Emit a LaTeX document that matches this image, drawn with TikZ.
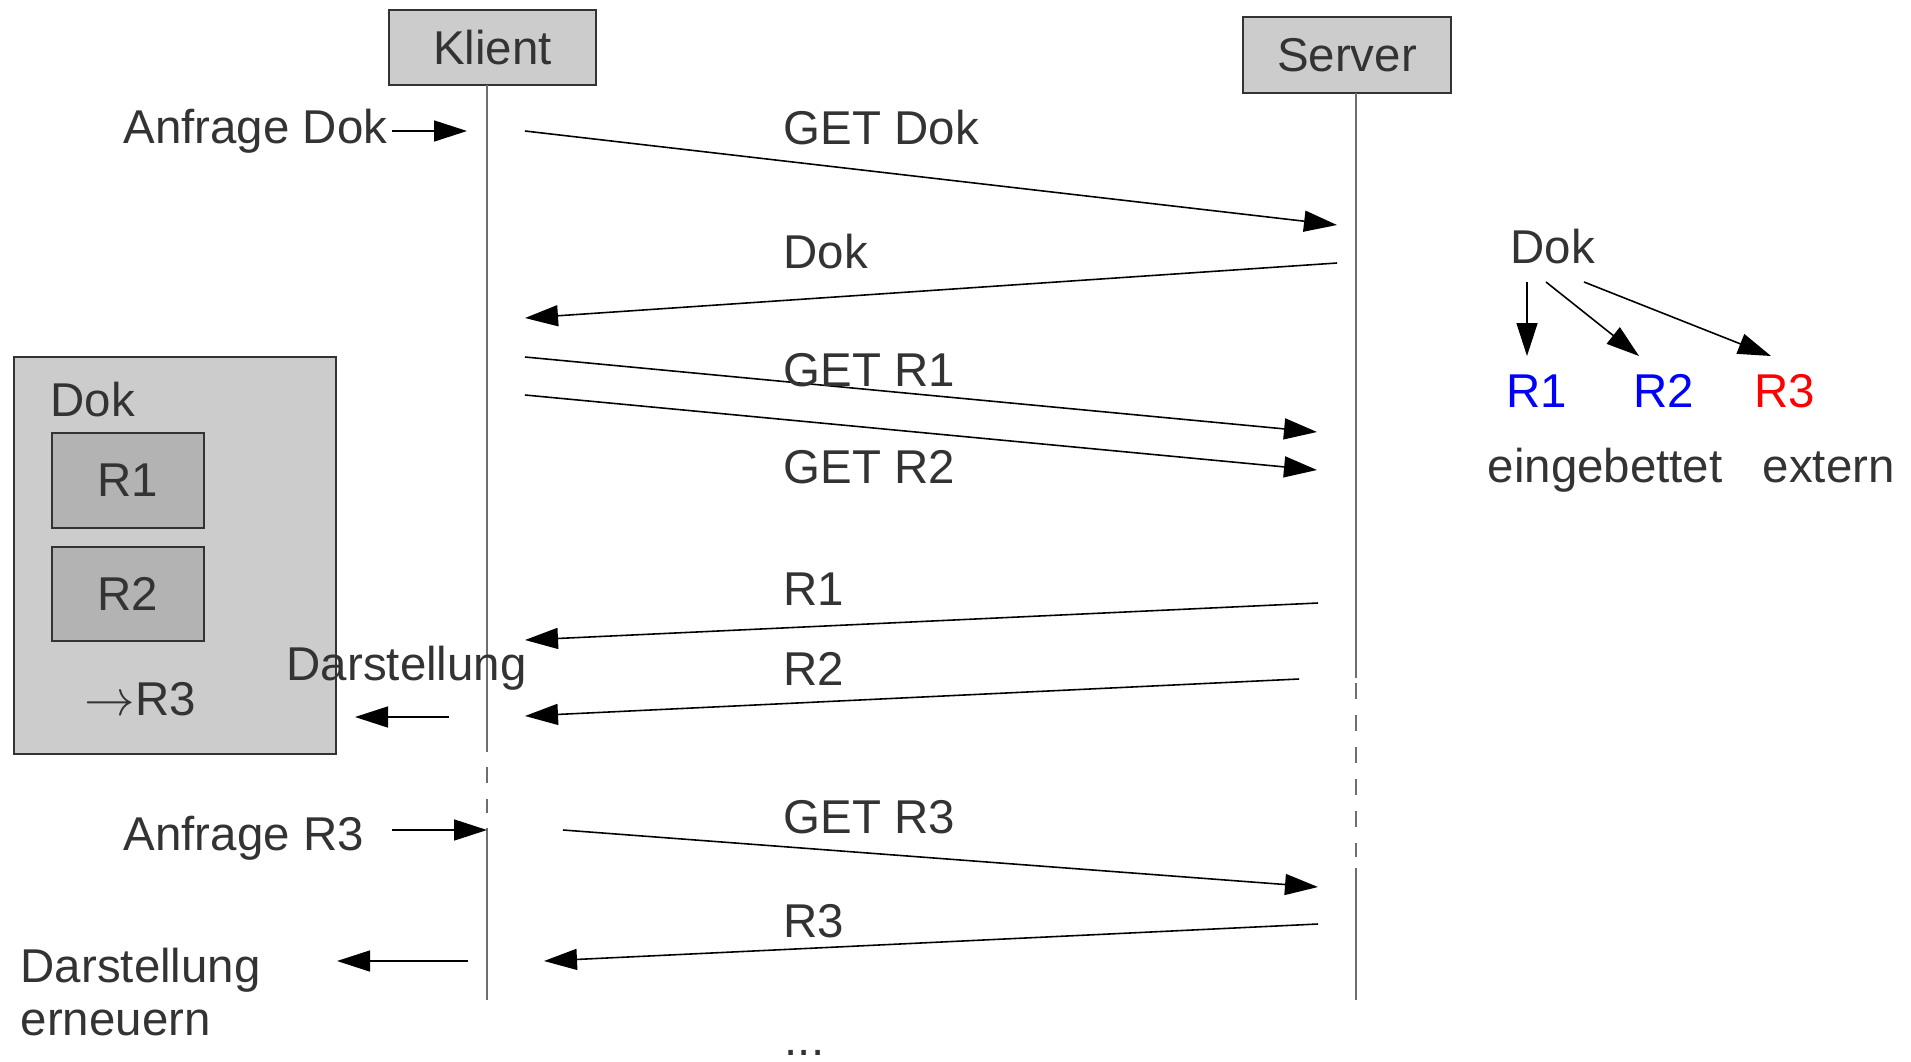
\documentclass[tikz,border=0pt]{standalone}
\usepackage{fontspec}
\setmainfont{Liberation Sans}
\usetikzlibrary{arrows.meta}
\definecolor{txt}{RGB}{51,51,51}
\definecolor{boxgray}{RGB}{204,204,204}
\definecolor{resgray}{RGB}{179,179,179}
\definecolor{lanegray}{RGB}{110,110,110}
\definecolor{blue}{RGB}{0,0,255}
\definecolor{red}{RGB}{255,0,0}

\begin{document}
\begin{tikzpicture}[
    font=\fontsize{13.5}{14.8}\selectfont, text=txt,
    msg/.style={line width=0.45pt, -{Triangle[length=3.3mm,width=2.1mm]}},
    lane/.style={lanegray, line width=0.5pt},
    lanegap/.style={lane, dash pattern=on 1.55mm off 1.65mm},
    lbl/.style={anchor=base west, inner sep=0pt},
    actor/.style={draw=txt, fill=boxgray, line width=0.5pt, minimum height=0.75cm, inner sep=0pt}]
    \useasboundingbox (0,0) rectangle (19.11,10.61);

    %% Client page with its resources (left)
    \node[draw=txt, fill=boxgray, line width=0.5pt, minimum width=3.22cm, minimum height=3.97cm] (page) at (1.75,5.055) {};
    \node[lbl] (pagedok) at (0.50,6.45) {Dok};
    \node[draw=txt, fill=resgray, line width=0.5pt, minimum width=1.52cm, minimum height=0.95cm, inner sep=0pt] (pager1) at (1.28,5.805) {R1};
    \node[draw=txt, fill=resgray, line width=0.5pt, minimum width=1.52cm, minimum height=0.94cm, inner sep=0pt] (pager2) at (1.28,4.67) {R2};
    \node[lbl] (pager3) at (0.84,3.46) {$\rightarrow$R3};

    %% Lifelines
    \node[actor, minimum width=2.07cm] (klient) at (4.925,10.135) {Klient};
    \node[actor, minimum width=2.08cm, minimum height=0.76cm] (server) at (13.47,10.06) {Server};
    \draw[lane] (4.87,9.76) -- (4.87,3.09);
    \draw[lanegap] (4.87,2.94) -- (4.87,2.48);
    \draw[lane] (4.87,2.33) -- (4.87,0.61);
    \draw[lane] (13.56,9.68) -- (13.56,3.83);
    \draw[lanegap] (13.56,3.78) -- (13.56,2.04);
    \draw[lane] (13.56,1.93) -- (13.56,0.61);

    %% Messages
    \coordinate (getdoka) at (5.25,9.30);  \coordinate (getdokb) at (13.37,8.36);
    \draw[msg] (getdoka) -- (getdokb);
    \node[lbl] (getdok) at (7.83,9.17) {GET Dok};

    \coordinate (doka) at (13.37,7.98);  \coordinate (dokb) at (5.25,7.43);
    \draw[msg] (doka) -- (dokb);
    \node[lbl] (dok) at (7.83,7.93) {Dok};

    \coordinate (getra) at (5.25,7.04);  \coordinate (getrb) at (13.17,6.29);
    \draw[msg] (getra) -- (getrb);
    \node[lbl] (getr1) at (7.83,6.75) {GET R1};

    \coordinate (getsa) at (5.25,6.66);  \coordinate (getsb) at (13.17,5.91);
    \draw[msg] (getsa) -- (getsb);
    \node[lbl] (getr2) at (7.83,5.78) {GET R2};

    \coordinate (r1a) at (13.18,4.58);  \coordinate (r1b) at (5.25,4.21);
    \draw[msg] (r1a) -- (r1b);
    \node[lbl] (r1) at (7.83,4.56) {R1};

    \coordinate (r2a) at (12.99,3.82);  \coordinate (r2b) at (5.25,3.45);
    \draw[msg] (r2a) -- (r2b);
    \node[lbl] (r2) at (7.83,3.76) {R2};

    \coordinate (getta) at (5.63,2.31);  \coordinate (gettb) at (13.18,1.74);
    \draw[msg] (getta) -- (gettb);
    \node[lbl] (getr3) at (7.83,2.28) {GET R3};

    \coordinate (r3a) at (13.18,1.37);  \coordinate (r3b) at (5.44,1.00);
    \draw[msg] (r3a) -- (r3b);
    \node[lbl] (r3) at (7.83,1.24) {R3};

    \node[lbl] (more) at (7.84,0.06) {...};

    %% User side
    \node[anchor=base east, inner sep=0pt] (anfdok) at (3.88,9.18) {Anfrage Dok};
    \coordinate (anfdoka) at (3.92,9.30);  \coordinate (anfdokb) at (4.67,9.30);
    \draw[msg] (anfdoka) -- (anfdokb);

    \node[lbl] (darst) at (2.86,3.81) {Darstellung};
    \coordinate (darsta) at (4.49,3.44);  \coordinate (darstb) at (3.55,3.44);
    \draw[msg] (darsta) -- (darstb);

    \node[lbl] (anfr3) at (1.23,2.11) {Anfrage R3};
    \coordinate (anfr3a) at (3.92,2.31);  \coordinate (anfr3b) at (4.87,2.31);
    \draw[msg] (anfr3a) -- (anfr3b);

    \node[lbl, align=left] (erneuern) at (0.20,0.26) {Darstellung\\erneuern};
    \coordinate (erna) at (4.68,1.00);  \coordinate (ernb) at (3.37,1.00);
    \draw[msg] (erna) -- (ernb);

    %% Document structure (right)
    \node[lbl] (treedok) at (15.10,7.98) {Dok};
    \node[lbl, text=blue] (tree1) at (15.06,6.54) {R1};
    \node[lbl, text=blue] (tree2) at (16.33,6.54) {R2};
    \node[lbl, text=red] (tree3) at (17.54,6.54) {R3};
    \node[lbl] (embedded) at (14.87,5.79) {eingebettet};
    \node[lbl] (external) at (17.62,5.79) {extern};
    \coordinate (t1a) at (15.27,7.79);  \coordinate (t1b) at (15.27,7.05);
    \coordinate (t2a) at (15.46,7.79);  \coordinate (t2b) at (16.39,7.05);
    \coordinate (t3a) at (15.84,7.79);  \coordinate (t3b) at (17.71,7.05);
    \draw[msg] (t1a) -- (t1b);
    \draw[msg] (t2a) -- (t2b);
    \draw[msg] (t3a) -- (t3b);
\end{tikzpicture}
\end{document}
